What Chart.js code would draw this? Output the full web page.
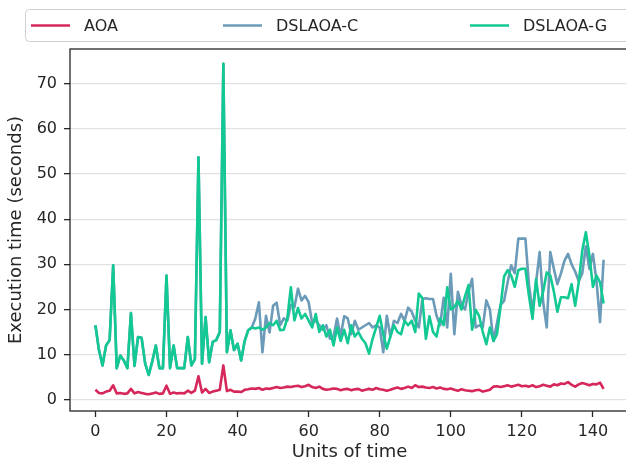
<!DOCTYPE html>
<html>
<head>
<meta charset="utf-8">
<script src="https://cdn.jsdelivr.net/npm/chart.js@4/dist/chart.umd.min.js"></script>
<style>
  html, body { margin: 0; padding: 0; overflow: hidden; background: #ffffff; }
  #wrap { position: absolute; left: 0; top: 0; width: 640px; height: 465px; }
</style>
</head>
<body>
<div id="wrap"><canvas id="c" width="640" height="465"></canvas></div>
<script>
// Time steps 0..143
const units = Array.from({ length: 144 }, (_, i) => i);

const seriesNames = ['AOA', 'DSLAOA-C', 'DSLAOA-G'];

const aoa = [
  2.2, 1.5, 1.4, 1.8, 2.0, 3.2, 1.4, 1.5, 1.3, 1.4,
  2.4, 1.4, 1.7, 1.5, 1.3, 1.2, 1.4, 1.6, 1.3, 1.4,
  3.1, 1.3, 1.6, 1.4, 1.5, 1.4, 2.0, 1.5, 2.0, 5.2,
  1.6, 2.4, 1.5, 1.8, 2.0, 2.2, 7.6, 1.9, 2.2, 1.8,
  1.8, 1.7, 2.2, 2.3, 2.5, 2.4, 2.6, 2.2, 2.5, 2.4,
  2.6, 2.8, 2.6, 2.7, 2.9, 2.8, 3.0, 3.1, 2.8, 3.0,
  3.3, 2.8, 2.6, 2.9, 2.4, 2.2, 2.3, 2.5, 2.4, 2.1,
  2.3, 2.4, 2.1, 2.3, 2.4, 2.0, 2.2, 2.4, 2.2, 2.6,
  2.3, 2.2, 2.0, 2.2, 2.5, 2.7, 2.4, 2.6, 2.9, 2.6,
  3.2, 2.8, 2.9, 2.7, 2.6, 2.8, 2.5, 2.7, 2.4, 2.3,
  2.5, 2.2, 2.0, 2.3, 2.1, 2.0, 1.9, 2.1, 2.2, 1.8,
  2.0, 2.2, 2.9, 3.0, 2.8, 3.0, 3.2, 2.9, 3.1, 3.3,
  3.0, 3.1, 2.9, 3.2, 2.8, 3.0, 3.3, 3.1, 2.9, 3.4,
  3.2, 3.6, 3.5, 3.9, 3.3, 2.9, 3.4, 3.7, 3.5, 3.2,
  3.5, 3.4, 3.8, 2.4
];

const dslaoaC = [
  16.5, 11.0, 7.6, 12.0, 13.2, 29.8, 7.0, 9.8, 8.7, 7.0,
  19.2, 7.5, 13.9, 13.7, 8.0, 5.5, 8.5, 12.0, 7.0, 7.0,
  27.5, 7.0, 12.0, 7.0, 7.0, 7.0, 13.9, 7.6, 9.0, 53.7,
  8.0, 18.3, 8.3, 12.8, 13.2, 15.0, 74.4, 10.5, 15.4, 11.0,
  12.4, 8.7, 13.0, 15.4, 16.0, 18.0, 21.6, 10.5, 18.6, 14.9,
  20.8, 21.5, 16.5, 18.0, 17.5, 21.0, 20.5, 24.6, 22.0, 23.0,
  21.6, 17.0, 17.5, 16.5, 15.5, 16.5, 13.5, 14.0, 18.0, 14.0,
  18.5, 18.0, 14.5, 17.5, 15.5, 16.0, 16.5, 17.0, 16.0, 16.5,
  16.0, 10.5, 18.6, 14.0, 17.5, 17.0, 19.0, 17.5, 20.4, 19.5,
  17.5, 16.0, 22.3, 22.5, 22.3, 22.3, 18.6, 16.5, 22.6, 16.0,
  27.9, 14.5, 23.9, 21.0, 20.0, 24.0, 26.8, 16.0, 16.5, 16.0,
  22.0, 20.0, 13.0, 17.0, 21.0, 21.9, 26.0, 29.8, 28.0, 35.7,
  35.7, 35.7, 25.5, 19.5, 26.0, 32.7, 21.6, 16.0, 32.7, 29.0,
  25.6, 28.0, 30.8, 32.3, 30.0, 28.4, 26.3, 28.0, 34.0, 29.0,
  32.3, 26.3, 17.2, 31.0
];

const dslaoaG = [
  16.5, 11.0, 7.6, 12.0, 13.2, 29.8, 7.0, 9.8, 8.7, 7.0,
  19.2, 7.5, 13.9, 13.7, 8.0, 5.5, 8.5, 12.0, 7.0, 7.0,
  27.5, 7.0, 12.0, 7.0, 7.0, 7.0, 13.9, 7.6, 9.0, 53.7,
  8.0, 18.3, 8.3, 12.8, 13.2, 15.0, 74.4, 10.5, 15.4, 11.0,
  12.4, 8.7, 13.0, 15.4, 16.0, 15.8, 16.0, 15.5, 16.0, 17.0,
  16.5, 17.5, 15.4, 15.5, 18.0, 24.9, 17.6, 20.3, 18.0, 19.0,
  17.5, 16.0, 19.0, 15.0, 16.5, 14.0, 15.5, 12.0, 16.0, 13.0,
  15.5, 12.5, 16.5, 14.0, 15.0, 13.5, 12.5, 10.2, 13.5, 16.0,
  18.6, 14.5, 11.3, 14.0, 16.5, 15.0, 14.5, 17.5, 16.5, 17.5,
  15.0, 23.5, 22.5, 13.5, 18.5, 15.0, 14.0, 18.0, 16.5, 24.9,
  20.0, 20.5, 21.9, 20.0, 22.9, 25.4, 15.5, 19.9, 18.5, 15.0,
  12.3, 16.0, 13.0, 14.5, 20.6, 27.3, 28.7, 27.5, 25.0, 28.7,
  29.0, 29.0, 23.0, 17.9, 26.7, 20.8, 24.0, 28.2, 27.5, 24.0,
  19.5, 22.7, 22.7, 22.5, 25.6, 20.8, 26.0, 33.0, 37.1, 32.0,
  25.0, 27.5, 26.0, 21.3
];

const xTicks = [0, 20, 40, 60, 80, 100, 120, 140];
const yTicks = [0, 10, 20, 30, 40, 50, 60, 70];

const colors = ['#d6275a', '#6b9bb8', '#12c994'];
const INK = '#262626';
const FONT = "'DejaVu Sans', sans-serif";

// Box around the plotting area, drawn above the lines
const frame = {
  id: 'frame',
  afterDatasetsDraw(chart) {
    const { ctx, chartArea: a } = chart;
    ctx.save();
    ctx.strokeStyle = INK;
    ctx.lineWidth = 1.3;
    ctx.strokeRect(a.left, a.top, a.right - a.left, a.bottom - a.top);
    ctx.restore();
  }
};

// Three-column legend spread across the top
const topLegend = {
  id: 'topLegend',
  afterDraw(chart) {
    const ctx = chart.ctx;
    const boxLeft = 25.5, boxTop = 9.5, boxBottom = 41.5, boxRight = 660, r = 4;
    ctx.save();
    ctx.beginPath();
    ctx.moveTo(boxLeft + r, boxTop);
    ctx.lineTo(boxRight, boxTop);
    ctx.lineTo(boxRight, boxBottom);
    ctx.lineTo(boxLeft + r, boxBottom);
    ctx.arcTo(boxLeft, boxBottom, boxLeft, boxBottom - r, r);
    ctx.lineTo(boxLeft, boxTop + r);
    ctx.arcTo(boxLeft, boxTop, boxLeft + r, boxTop, r);
    ctx.closePath();
    ctx.fillStyle = '#ffffff';
    ctx.fill();
    ctx.strokeStyle = '#d0d0d0';
    ctx.lineWidth = 1;
    ctx.stroke();

    const cols = [31, 223, 470];
    const cy = 25.5;
    chart.data.datasets.forEach((ds, i) => {
      const x = cols[i];
      ctx.strokeStyle = ds.borderColor;
      ctx.lineWidth = 2.6;
      ctx.beginPath();
      ctx.moveTo(x, cy);
      ctx.lineTo(x + 39, cy);
      ctx.stroke();
      ctx.fillStyle = INK;
      ctx.font = '16px ' + FONT;
      ctx.textAlign = 'left';
      ctx.textBaseline = 'middle';
      ctx.fillText(ds.label, x + 53, cy + 1);
    });
    ctx.restore();
  }
};

const series = [aoa, dslaoaC, dslaoaG];

new Chart(document.getElementById('c'), {
  type: 'line',
  data: {
    labels: units,
    datasets: series.map((vals, i) => ({
      label: seriesNames[i],
      data: vals,
      borderColor: colors[i],
      backgroundColor: colors[i],
      borderWidth: 2.6,
      pointRadius: 0,
      tension: 0,
      borderJoinStyle: 'round',
      fill: false,
      order: 2 - i
    }))
  },
  options: {
    responsive: false,
    animation: false,
    devicePixelRatio: 1,
    layout: { padding: { top: 49, right: 11, bottom: 0, left: 0 } },
    plugins: {
      legend: { display: false },
      tooltip: { enabled: false }
    },
    scales: {
      x: {
        type: 'linear',
        min: -7.15,
        max: 150.15,
        afterFit(scale) { scale.height = 54; },
        afterBuildTicks(scale) { scale.ticks = xTicks.map(v => ({ value: v })); },
        border: { display: false },
        grid: {
          drawOnChartArea: false,
          drawTicks: true,
          tickLength: 6,
          tickColor: INK,
          tickWidth: 1.3
        },
        ticks: {
          color: INK,
          font: { family: FONT, size: 16 },
          padding: 5,
          maxRotation: 0,
          autoSkip: false
        },
        title: {
          display: true,
          text: 'Units of time',
          color: INK,
          font: { family: FONT, size: 18 },
          padding: { top: 0, bottom: 2 }
        }
      },
      y: {
        type: 'linear',
        min: -2.5,
        max: 77.7,
        afterFit(scale) { scale.width = 70; },
        afterBuildTicks(scale) { scale.ticks = yTicks.map(v => ({ value: v })); },
        border: { display: false },
        grid: {
          color: '#e1e1e1',
          lineWidth: 1.3,
          drawTicks: true,
          tickLength: 6,
          tickColor: INK,
          tickWidth: 1.3
        },
        ticks: {
          color: INK,
          font: { family: FONT, size: 16 },
          padding: 7,
          autoSkip: false
        },
        title: {
          display: true,
          text: 'Execution time (seconds)',
          color: INK,
          font: { family: FONT, size: 18 },
          padding: { top: 6, bottom: 0 }
        }
      }
    }
  },
  plugins: [frame, topLegend]
});
</script>
</body>
</html>
